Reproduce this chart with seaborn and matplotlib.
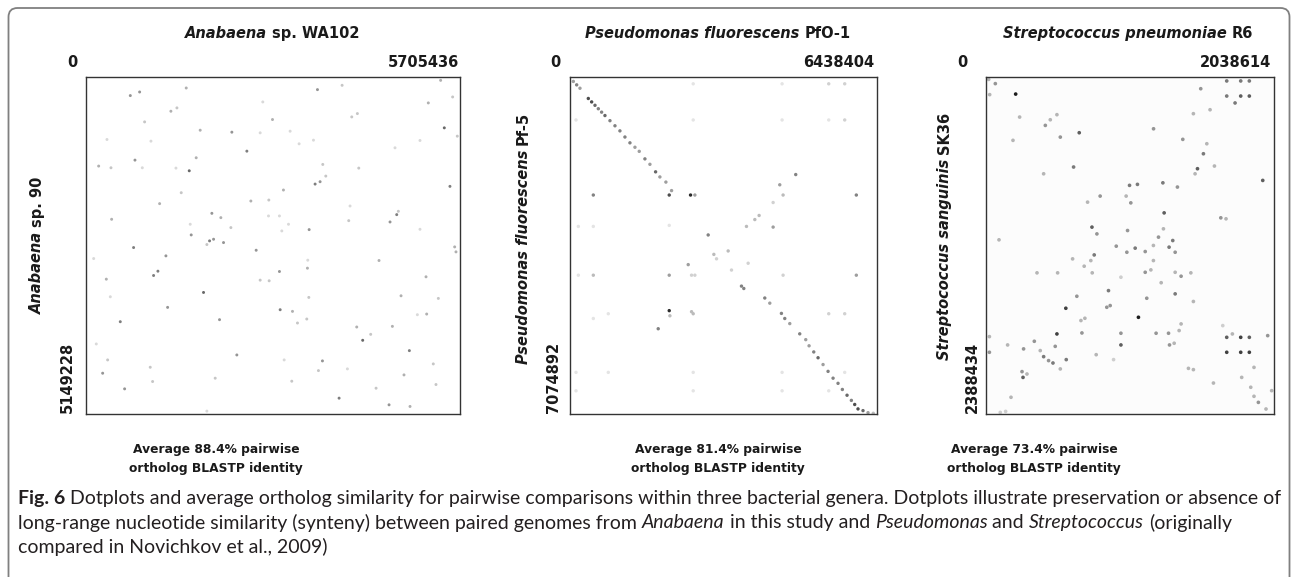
import numpy as np
import pandas as pd
import matplotlib
matplotlib.use("Agg")
import matplotlib.pyplot as plt
import seaborn as sns
from matplotlib.patches import FancyBboxPatch
from matplotlib.transforms import IdentityTransform

# ---------------- data (genome positions in kb) ----------------
ana_len_x = 5705436
ana_len_y = 5149228
ana_x = [676, 818, 1529, 3531, 5410, 5222, 5593, 5466, 1295, 1387,
         2845, 4140, 4054, 894, 1742, 2225, 2657, 3114, 2454, 747,
         193, 381, 1575, 1681, 859, 1372, 4161, 3612, 3495, 3571,
         3658, 5552, 3012, 2515, 2789, 1123, 1920, 2057, 4740, 4638,
         4765, 391, 2210, 3404, 4008, 1605, 1885, 1946, 2098, 1844,
         726, 1219, 2596, 5624, 5644, 4470, 1097, 1031, 2951, 3378,
         310, 5187, 1793, 4806, 5375, 3399, 1245, 2962, 3150, 2037,
         523, 3226, 3368, 4130, 4674, 4221, 4343, 4933, 2301, 3607,
         254, 3546, 4851, 589, 1016, 4425, 5298, 5339, 3861, 4623,
         4943, 1844, 3023, 117, 371, 157, 330, 980, 1971, 3139,
         3988, 5055, 5095, 5664, 2697, 3907, 4714, 5095, 3470, 3251,
         991, 320, 1453, 1590, 2784, 2951, 3089, 2657, 2794, 3383,
         4028, 2987, 5197]
ana_y = [284, 229, 168, 193, 51, 396, 305, 777, 523, 472,
         650, 559, 610, 686, 813, 843, 853, 828, 1133, 1270,
         1361, 1387, 1433, 1234, 1387, 1392, 1392, 1336, 1636, 1600,
         1514, 1671, 1727, 1895, 1880, 1935, 2083, 2149, 2103, 2215,
         2052, 2174, 2301, 2332, 2195, 2413, 2504, 2479, 2530, 2560,
         2606, 2733, 2647, 2596, 2672, 2804, 2967, 3033, 2972, 2921,
         3089, 3053, 3292, 3343, 3383, 3368, 3520, 3556, 3581, 3708,
         3739, 3759, 3698, 3820, 3810, 4023, 3932, 4181, 4247, 4338,
         4526, 4486, 4552, 4765, 4653, 4755, 4384, 4699, 4907, 5009,
         5034, 5105, 4323, 2774, 3358, 4079, 4323, 4435, 4602, 4648,
         4460, 3632, 2327, 904, 381, 127, 1082, 970, 965, 1021,
         980, 955, 1768, 2250, 2123, 2123, 2250, 3104, 3114, 2799,
         1971, 2352, 3622]
ana_i = [0.6, 0.6, 0.5, 0.6, 0.5, 0.5, 0.4, 0.8, 0.5, 0.4,
         0.5, 0.4, 0.4, 0.4, 0.5, 0.6, 0.3, 0.3, 0.7, 0.6,
         0.5, 0.4, 0.8, 0.5, 0.3, 0.3, 0.4, 0.4, 0.7, 0.6,
         0.4, 0.7, 0.5, 0.5, 0.4, 0.5, 0.6, 0.5, 0.7, 0.6,
         0.4, 0.5, 0.4, 0.6, 0.4, 0.6, 0.7, 0.6, 0.6, 0.4,
         0.7, 0.6, 0.6, 0.5, 0.5, 0.5, 0.7, 0.7, 0.6, 0.5,
         0.5, 0.5, 0.8, 0.5, 0.4, 0.4, 0.6, 0.7, 0.5, 0.6,
         0.7, 0.4, 0.4, 0.5, 0.5, 0.8, 0.4, 0.7, 0.6, 0.6,
         0.6, 0.4, 0.5, 0.6, 0.4, 0.4, 0.4, 0.4, 0.7, 0.6,
         0.5, 0.3, 0.3, 0.3, 0.3, 0.3, 0.4, 0.4, 0.4, 0.4,
         0.3, 0.3, 0.3, 0.4, 0.3, 0.4, 0.3, 0.3, 0.3, 0.3,
         0.3, 0.3, 0.4, 0.3, 0.3, 0.3, 0.3, 0.4, 0.4, 0.3,
         0.3, 0.3, 0.5]

pse_len_x = 6438404
pse_len_y = 7074892
pse_diag_x = [70, 140, 209, 384, 454, 524, 594, 663, 733, 838,
              943, 1047, 1152, 1257, 1362, 1452, 1571, 1676, 1795, 1885,
              2011, 2130, 2898, 3596, 3645, 4085, 4190, 4434, 4504, 4609,
              4818, 4944, 5014, 5112, 5202, 5307, 5412, 5517, 5621, 5712,
              5810, 5901, 5971, 6040, 6145, 6250, 6360]
pse_diag_y = [93, 165, 236, 451, 523, 594, 666, 738, 809, 917,
              1024, 1131, 1260, 1382, 1475, 1561, 1719, 1833, 1991, 2098,
              2206, 2385, 3316, 4390, 4440, 4640, 4748, 4963, 5070, 5177,
              5392, 5514, 5643, 5772, 5894, 6037, 6180, 6323, 6431, 6560,
              6681, 6789, 6875, 6968, 7004, 7047, 7060]
pse_diag_i = [0.5, 0.6, 0.5, 0.8, 0.8, 0.7, 0.6, 0.6, 0.7, 0.6,
              0.6, 0.6, 0.6, 0.6, 0.5, 0.5, 0.6, 0.5, 0.7, 0.5,
              0.5, 0.5, 0.6, 0.6, 0.6, 0.6, 0.5, 0.6, 0.6, 0.5,
              0.6, 0.5, 0.5, 0.6, 0.7, 0.5, 0.6, 0.6, 0.6, 0.6,
              0.7, 0.6, 0.8, 0.8, 0.7, 0.5, 0.4]
pse_other_x = [4734, 4399, 4260, 3966, 3876, 3701, 3317, 3073, 3017, 2479,
               1850, 2584, 4448, 5426, 5761, 126, 2584, 4448, 5426, 5761,
               489, 2081, 2528, 2619, 4469, 6005, 175, 489, 2081, 4260,
               175, 489, 2081, 2549, 2619, 4469, 6005, 489, 803, 2081,
               2095, 2549, 2584, 5426, 5761, 126, 803, 2584, 4448, 5761,
               126, 2584, 4448, 5426, 3736, 3387]
pse_other_y = [2048, 2263, 2635, 2907, 2993, 3137, 3652, 3817, 3724, 3939,
               5285, 143, 143, 143, 143, 902, 902, 902, 902, 902,
               2478, 2478, 2478, 2478, 2478, 2478, 3137, 3137, 3115, 3151,
               4161, 4161, 4161, 4161, 4161, 4161, 4161, 5070, 4970, 4905,
               5013, 4927, 4970, 4970, 4970, 6201, 6201, 6201, 6201, 6201,
               6588, 6588, 6588, 6588, 3910, 4053]
pse_other_i = [0.6, 0.5, 0.3, 0.4, 0.4, 0.4, 0.4, 0.3, 0.4, 0.5,
               0.6, 0.2, 0.2, 0.3, 0.3, 0.2, 0.2, 0.2, 0.2, 0.3,
               0.6, 0.8, 0.9, 0.5, 0.4, 0.6, 0.2, 0.2, 0.2, 0.5,
               0.2, 0.4, 0.5, 0.3, 0.3, 0.3, 0.5, 0.2, 0.2, 0.9,
               0.4, 0.4, 0.4, 0.3, 0.3, 0.2, 0.2, 0.2, 0.2, 0.2,
               0.2, 0.2, 0.2, 0.2, 0.3, 0.3]

str_len_x = 2038614
str_len_y = 2388434
str_x = [19, 66, 26, 210, 1704, 1803, 1864, 1704, 1803, 1864,
         1763, 1520, 238, 420, 455, 502, 526, 660, 191, 1186,
         1393, 1468, 1586, 1563, 1539, 1617, 1497, 1480, 620, 408,
         1959, 1016, 1072, 1252, 1355, 808, 992, 719, 1025, 1261,
         1662, 1699, 750, 785, 1002, 1221, 1322, 1256, 92, 922,
         997, 1056, 1127, 1185, 1296, 1339, 766, 613, 1185, 742,
         695, 1127, 1167, 1339, 1381, 1450, 361, 507, 752, 955,
         1240, 867, 1339, 643, 1138, 1468, 565, 855, 879, 1079,
         672, 700, 1381, 502, 679, 955, 1204, 1292, 1367, 1704,
         1803, 1864, 1744, 1994, 1676, 24, 342, 490, 955, 1299,
         1332, 153, 266, 1704, 1803, 1864, 24, 780, 384, 408,
         443, 474, 568, 526, 903, 255, 290, 262, 1433, 1468,
         1897, 1810, 1610, 1874, 2022, 177, 1897, 1928, 1982, 101,
         139]
str_y = [17, 47, 125, 121, 28, 28, 28, 135, 135, 135,
         184, 83, 284, 343, 303, 267, 426, 395, 449, 367,
         442, 260, 232, 473, 544, 631, 650, 686, 638, 686,
         733, 768, 761, 750, 780, 844, 844, 887, 892, 963,
         998, 1005, 1064, 1112, 1088, 1135, 1159, 1076, 1154, 1199,
         1242, 1213, 1237, 1194, 1206, 1242, 1261, 1289, 1301, 1301,
         1341, 1384, 1367, 1384, 1412, 1388, 1388, 1388, 1388, 1419,
         1458, 1514, 1537, 1554, 1568, 1591, 1639, 1632, 1620, 1703,
         1726, 1710, 1750, 1821, 1814, 1816, 1816, 1816, 1797, 1845,
         1845, 1845, 1821, 1833, 1762, 1840, 1873, 1909, 1899, 1899,
         1887, 1899, 1927, 1951, 1951, 1951, 1951, 1968, 1939, 1982,
         2010, 2027, 2003, 2069, 2003, 2088, 2105, 2129, 2065, 2074,
         2058, 2129, 2169, 2199, 2223, 2270, 2263, 2306, 2353, 2377,
         2370]
str_i = [0.4, 0.5, 0.4, 0.9, 0.6, 0.6, 0.6, 0.6, 0.7, 0.7,
         0.6, 0.5, 0.4, 0.5, 0.4, 0.4, 0.5, 0.7, 0.4, 0.5,
         0.5, 0.4, 0.4, 0.4, 0.6, 0.4, 0.7, 0.4, 0.6, 0.4,
         0.7, 0.6, 0.6, 0.6, 0.5, 0.5, 0.4, 0.4, 0.5, 0.7,
         0.5, 0.4, 0.7, 0.5, 0.5, 0.5, 0.6, 0.4, 0.4, 0.5,
         0.5, 0.6, 0.5, 0.4, 0.6, 0.5, 0.6, 0.4, 0.4, 0.4,
         0.4, 0.5, 0.4, 0.4, 0.5, 0.4, 0.4, 0.4, 0.4, 0.3,
         0.4, 0.6, 0.6, 0.5, 0.5, 0.4, 0.8, 0.5, 0.5, 0.9,
         0.4, 0.4, 0.4, 0.8, 0.5, 0.5, 0.5, 0.5, 0.4, 0.7,
         0.8, 0.7, 0.4, 0.5, 0.3, 0.4, 0.5, 0.5, 0.7, 0.5,
         0.4, 0.4, 0.5, 0.8, 0.8, 0.8, 0.5, 0.4, 0.4, 0.6,
         0.5, 0.6, 0.6, 0.4, 0.3, 0.5, 0.4, 0.7, 0.4, 0.4,
         0.4, 0.4, 0.4, 0.4, 0.4, 0.4, 0.4, 0.5, 0.4, 0.3,
         0.3]

identities = ["88.4%", "81.4%", "73.4%"]

# ---------------- figure ----------------
W, H = 1293, 577
sns.set_theme(style="white")
plt.rcParams['font.family'] = ['DejaVu Sans']

fig = plt.figure(figsize=(W / 100, H / 100), dpi=100)
fig.patch.set_facecolor('white')
renderer = fig.canvas.get_renderer()

# outer rounded frame (open at the bottom)
frame = FancyBboxPatch((8.5, -40), W - 12, H - 8.0 + 40,
                       boxstyle="round,pad=0,rounding_size=9",
                       transform=IdentityTransform(), fill=False,
                       edgecolor='#808080', linewidth=1.3)
fig.add_artist(frame)


def ax_at(l, t, r, b):
    return fig.add_axes([l / W, 1 - b / H, (r - l) / W, (b - t) / H])


def draw_panel(ax, df, xmax, ymax, size=7, face='white', norm=(0, 1)):
    sns.scatterplot(data=df, x='x', y='y', hue='i', palette='Greys',
                    hue_norm=norm, s=size, linewidth=0, legend=False, ax=ax)
    ax.set_xlim(0, xmax)
    ax.set_ylim(ymax, 0)
    ax.set_xticks([])
    ax.set_yticks([])
    ax.set_xlabel('')
    ax.set_ylabel('')
    ax.set_facecolor(face)
    for sp in ax.spines.values():
        sp.set_visible(True)
        sp.set_color('#333333')
        sp.set_linewidth(1.0)


df1 = pd.DataFrame({'x': ana_x, 'y': ana_y, 'i': ana_i})
df2 = pd.DataFrame({'x': pse_diag_x + pse_other_x,
                    'y': pse_diag_y + pse_other_y,
                    'i': pse_diag_i + pse_other_i})
df3 = pd.DataFrame({'x': str_x, 'y': str_y, 'i': str_i})

ax1 = ax_at(86, 77, 460, 414)
draw_panel(ax1, df1, ana_len_x / 1000, ana_len_y / 1000, size=4.5, norm=(0, 1.2))
ax2 = ax_at(570, 77, 877, 414)
draw_panel(ax2, df2, pse_len_x / 1000, pse_len_y / 1000, size=6, norm=(0, 1.05))
ax3 = ax_at(986, 77, 1274, 414)
draw_panel(ax3, df3, str_len_x / 1000, str_len_y / 1000, size=7, face='#fcfcfc')


# ---------------- mixed-style text helper ----------------
def advance(s, **kw):
    t1 = fig.text(0, 0, 'X' + s + 'X', **kw)
    t2 = fig.text(0, 0, 'XX', **kw)
    w = t1.get_window_extent(renderer).width - t2.get_window_extent(renderer).width
    t1.remove()
    t2.remove()
    return w


def runs(x, y, parts, size, ha='center', rot=0, family='DejaVu Sans',
         color='#1a1a1a'):
    """parts: list of (text, style, weight); x,y in top-origin pixels."""
    props = [dict(fontsize=size, fontstyle=part[1], fontweight=part[2], family=family)
             for part in parts]
    widths = [advance(part[0], **p) for part, p in zip(parts, props)]
    total = sum(widths)
    start = {'center': -total / 2, 'left': 0.0, 'right': -total}[ha]
    pos = start
    for part, w, p in zip(parts, widths, props):
        s = part[0]
        stripped = s.lstrip(' ')
        lead = len(s) - len(stripped)
        off = advance(' ' * lead, **p) if lead else 0.0
        if stripped:
            if rot == 0:
                px, py = x + pos + off, H - y
            else:
                px, py = x, H - y + pos + off
            fig.text(px / W, py / H, stripped, rotation=rot,
                     rotation_mode='anchor', ha='left', va='center_baseline',
                     color=color, **p)
        pos += w
    return total


B = 'bold'
TS = 10.5
# titles
runs(272, 32, [("Anabaena", 'italic', B), (" sp. WA102", 'normal', B)], TS)
runs(718, 32, [("Pseudomonas fluorescens", 'italic', B), (" PfO-1", 'normal', B)], TS)
runs(1128, 32, [("Streptococcus pneumoniae", 'italic', B), (" R6", 'normal', B)], TS)

# top coordinate labels
NY = 61
runs(72, NY, [("0", 'normal', B)], TS)
runs(459, NY, [(f"{ana_len_x}", 'normal', B)], TS, ha='right')
runs(555, NY, [("0", 'normal', B)], TS)
runs(874, NY, [(f"{pse_len_x}", 'normal', B)], TS, ha='right')
runs(962, NY, [("0", 'normal', B)], TS)
runs(1271, NY, [(f"{str_len_x}", 'normal', B)], TS, ha='right')

# vertical genome labels
runs(36, 245, [("Anabaena", 'italic', B), (" sp. 90", 'normal', B)], TS, rot=90)
runs(66, 413, [(f"{ana_len_y}", 'normal', B)], TS, ha='left', rot=90)
runs(522, 238, [("Pseudomonas fluorescens", 'italic', B), (" Pf-5", 'normal', B)], TS, rot=90)
runs(552, 413, [(f"{pse_len_y}", 'normal', B)], TS, ha='left', rot=90)
runs(943, 236, [("Streptococcus sanguinis", 'italic', B), (" SK36", 'normal', B)], TS, rot=90)
runs(971, 413, [(f"{str_len_y}", 'normal', B)], TS, ha='left', rot=90)

# identity captions under panels
BS = 8.8
for cx, ident in zip([216, 718, 1034], identities):
    runs(cx, 448, [(f"Average {ident} pairwise", 'normal', B)], BS)
    runs(cx, 467, [("ortholog BLASTP identity", 'normal', B)], BS)

# figure caption
cap1 = [("Fig. 6", 'normal', 'bold'),
        (" Dotplots and average ortholog similarity for pairwise comparisons within three "
         "bacterial genera. Dotplots illustrate preservation or absence of", 'normal', 'normal')]
cap2 = [("long-range nucleotide similarity (synteny) between paired genomes from ", 'normal', 'normal'),
        ("Anabaena", 'italic', 'normal'),
        (" in this study and ", 'normal', 'normal'),
        ("Pseudomonas", 'italic', 'normal'),
        (" and ", 'normal', 'normal'),
        ("Streptococcus", 'italic', 'normal'),
        (" (originally", 'normal', 'normal')]
cap3 = [("compared in Novichkov et al., 2009)", 'normal', 'normal')]

CF = 'Lato'
w_ref = sum(advance(s, fontsize=12, fontstyle=st, fontweight=wt, family=CF)
            for s, st, wt in cap1)
cs = 12 * 1258 / w_ref
for yy, parts in zip([497, 521, 545], [cap1, cap2, cap3]):
    runs(18, yy, parts, cs, ha='left', family=CF, color='#231f20')

fig.savefig('out.png', dpi=100, facecolor='white')
